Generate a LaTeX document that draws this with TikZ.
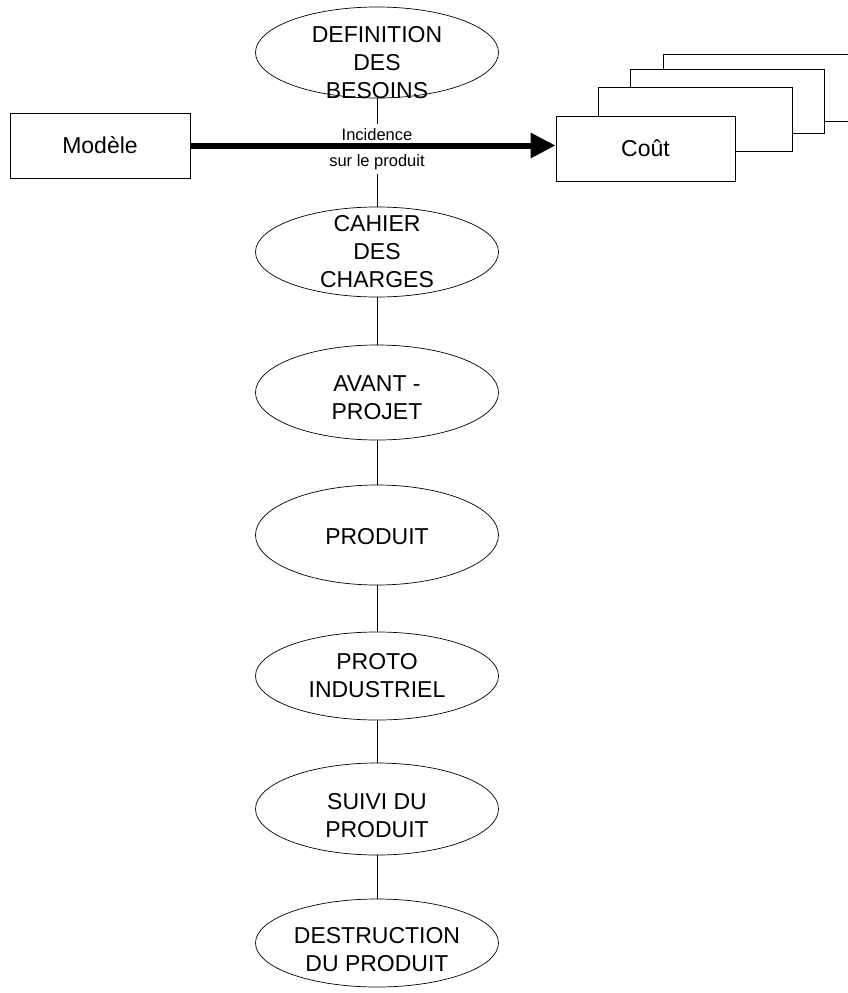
\documentclass[tikz,border=0pt]{standalone}
\usepackage{fontspec}
\setmainfont{Liberation Sans}
\usetikzlibrary{shapes.geometric,arrows.meta}
\begin{document}
\begin{tikzpicture}[x=1pt,y=-1pt,
  phase/.style={ellipse,draw,line width=0.7pt,minimum width=243pt,inner sep=0pt},
  phasetext/.style={align=center,inner sep=0pt,font=\fontsize{23}{28}\selectfont},
  box/.style={draw,line width=0.9pt,fill=white,minimum height=65pt,inner sep=0pt,font=\fontsize{23}{28}\selectfont},
  backbox/.style={draw,line width=0.9pt,fill=white,inner sep=0pt},
  link/.style={line width=1pt},
  smalltext/.style={inner sep=4pt,font=\fontsize{16.5}{20}\selectfont}]
\useasboundingbox (0,0) rectangle (848,993);
\fill[white] (0,0) rectangle (848,993);

% stacked cost sheets
\begin{scope}
\clip (0,0) rectangle (848,993);
\node[backbox,minimum width=260pt,minimum height=67pt] (c4) at (793,87.5) {};
\node[backbox,minimum width=194pt,minimum height=64pt] (c3) at (727,101) {};
\node[backbox,minimum width=194pt,minimum height=64pt] (c2) at (695,119) {};
\end{scope}
\node[box,minimum width=179pt] (cout) at (645.5,148.5) {Coût};
\node[box,minimum width=180pt] (model) at (100,145.5) {Modèle};

% phases
\node[phase,minimum height=91pt] (e1) at (377,52.5) {};
\node[phase,minimum height=90pt] (e2) at (377,252) {};
\node[phase,minimum height=95pt] (e3) at (377,392.5) {};
\node[phase,minimum height=100pt] (e4) at (377,535) {};
\node[phase,minimum height=88pt] (e5) at (377,676) {};
\node[phase,minimum height=92pt] (e6) at (377,809) {};
\node[phase,minimum height=88pt] (e7) at (377,943) {};

\node[phasetext] (t1) at (377,63) {DEFINITION\\DES\\BESOINS};
\node[phasetext] (t2) at (377,252) {CAHIER\\DES\\CHARGES};
\node[phasetext] (t3) at (377,398) {AVANT -\\PROJET};
\node[phasetext] (t4) at (377,537) {PRODUIT};
\node[phasetext] (t5) at (377,676) {PROTO\\INDUSTRIEL};
\node[phasetext] (t6) at (377,816) {SUIVI DU\\PRODUIT};
\node[phasetext] (t7) at (377,950) {DESTRUCTION\\DU PRODUIT};

\node[smalltext,anchor=base] (inc) at (377,140) {Incidence};
\node[smalltext,anchor=base] (sur) at (377,166) {sur le produit};

% connectors
\draw[link] (e1) -- (inc);
\draw[link] (sur) -- (e2);
\draw[link] (e2) -- (e3);
\draw[link] (e3) -- (e4);
\draw[link] (e4) -- (e5);
\draw[link] (e5) -- (e6);
\draw[link] (e6) -- (e7);

\draw[line width=6pt,-{Triangle[length=25pt,width=24pt]}] (model.east) -- (model.east -| cout.west);
\end{tikzpicture}
\end{document}
